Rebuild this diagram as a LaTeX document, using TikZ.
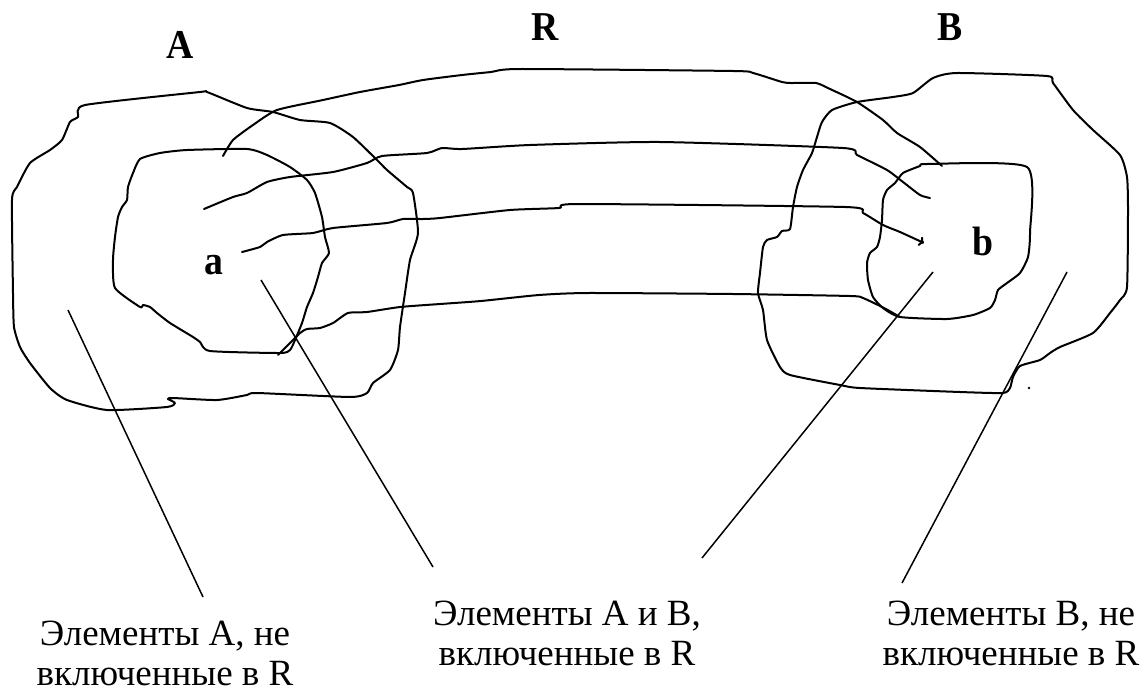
\documentclass[tikz,border=0pt]{standalone}
\usepackage{fontspec}
\setmainfont{Liberation Serif}
\usepackage{graphicx}
\usetikzlibrary{arrows.meta}
\begin{document}
\begin{tikzpicture}[x=1pt,y=-1pt,
  outline/.style={line width=2pt, line join=round, line cap=round},
  pointer/.style={line width=1.5pt},
  setname/.style={font=\fontsize{41}{41}\selectfont\bfseries, inner sep=0pt, anchor=base},
  caption/.style={font=\fontsize{37}{39.5}\selectfont, align=center, inner sep=0pt, anchor=base}]
\useasboundingbox (0,0) rectangle (1144,691);

% set A
\draw[outline] plot[smooth cycle, tension=0.35] coordinates {
  (85,105) (200,92) (207,92) (247,108) (273,112) (300,120) (330,123) (353,137)
  (377,160) (387,170) (407,187) (413,193) (418,233) (410,260) (405,293) (400,327)
  (398,350) (390,370) (373,383) (367,393) (350,397) (257,393) (247,395) (217,400)
  (173,398) (168,399) (175,403) (167,407) (107,410) (67,400) (50,388) (30,363)
  (20,347) (14,327) (13,293) (12,200) (17,187) (30,163) (50,150) (62,140)
  (70,122) (78,117)};

% elements of A taking part in R
\draw[outline] plot[smooth cycle, tension=0.35] coordinates {
  (140,159) (160,153) (187,150) (247,149) (267,155) (290,167) (307,180) (315,193)
  (322,217) (325,237) (329,253) (322,263) (318,277) (313,293) (307,307) (302,323)
  (295,340) (290,350) (280,353) (210,351) (200,342) (193,337) (170,323) (157,313)
  (150,307) (143,305) (140,307) (115,288) (113,260) (115,237) (118,217) (122,207)
  (127,200) (128,187) (133,173)};

% set B
\draw[outline] plot[smooth cycle, tension=0.35] coordinates {
  (957,73) (1047,76) (1053,83) (1073,110) (1093,130) (1120,155) (1127,177) (1128,210)
  (1127,287) (1120,300) (1110,313) (1093,333) (1060,347) (1050,353) (1040,360)
  (1020,366) (1013,377) (1010,388) (1003,393) (960,392) (860,388) (840,385)
  (790,375) (780,367) (767,340) (763,310) (758,293) (760,273) (763,247) (767,240)
  (777,237) (782,231) (790,229) (793,207) (797,187) (803,170) (812,153) (817,137)
  (822,122) (832,110) (857,102) (893,97) (913,93) (933,78)};

% elements of B taking part in R
\draw[outline] plot[smooth cycle, tension=0.35] coordinates {
  (927,164) (1027,167) (1030,233) (1028,257) (1020,273) (1007,283) (998,290)
  (995,300) (990,308) (973,315) (947,319) (900,317) (883,308) (873,297) (868,280)
  (867,263) (870,253) (877,247) (880,237) (882,220) (883,200) (887,190) (895,183)
  (903,173) (920,166)};

% the relation R: bands running from A to B
\draw[outline] plot[smooth, tension=0.35] coordinates {
  (223,156) (233,140) (253,125) (277,110) (323,100) (360,92) (399,85) (423,80)
  (462,75) (491,72) (520,69) (733,71) (753,73) (782,82) (791,83) (816,83)
  (830,89) (857,102) (883,120) (897,133) (920,147) (942,166)};
\draw[outline] plot[smooth, tension=0.35] coordinates {
  (204,209) (233,197) (247,193) (267,182) (290,177) (333,172) (367,163) (382,156)
  (427,153) (442,148) (462,149) (530,145) (660,142) (843,148) (857,155) (887,170)
  (903,182) (920,195) (930,198)};
\draw[outline, -{To[length=5pt,width=10pt]}] plot[smooth, tension=0.35] coordinates {
  (242,252) (260,247) (267,242) (283,235) (313,233) (333,228) (387,223) (403,219)
  (423,219) (440,218) (510,210) (559,208) (578,204) (845,207) (863,213) (883,225)
  (900,232) (924,243)};
\draw[outline] plot[smooth, tension=0.35] coordinates {
  (278,355) (290,343) (300,333) (307,329) (320,328) (333,323) (348,313) (367,312)
  (400,307) (440,304) (481,301) (539,295) (588,293) (733,294) (850,296) (863,298)
  (884,308) (900,317)};
\fill (1029,388) circle (1.3);

% names
\node[setname] (nameA) at (180,58) {\scalebox{0.92}[1]{A}};
\node[setname] (nameR) at (545,40) {\scalebox{0.92}[1]{R}};
\node[setname] (nameB) at (950,40) {\scalebox{0.92}[1]{B}};
\node[setname] (elta) at (214,274) {\scalebox{0.92}[1]{a}};
\node[setname] (eltb) at (983,255) {\scalebox{0.92}[1]{b}};

% captions (base = baseline of the last line)
\node[caption] (capA) at (165,685) {Элементы A, не\\включенные в R};
\node[caption] (capAB) at (567,665) {Элементы A и B,\\включенные в R};
\node[caption] (capB) at (1011,665) {Элементы B, не\\включенные в R};

% pointers from regions to captions
\coordinate (pA) at (68,310);   \coordinate (qA) at (203,597);
\coordinate (pa) at (261,280);  \coordinate (qa) at (433,567);
\coordinate (pb) at (933,272);  \coordinate (qb) at (702,558);
\coordinate (pB) at (1067,272); \coordinate (qB) at (902,583);
\draw[pointer] (pA) -- (qA);
\draw[pointer] (pa) -- (qa);
\draw[pointer] (pb) -- (qb);
\draw[pointer] (pB) -- (qB);
\end{tikzpicture}
\end{document}
